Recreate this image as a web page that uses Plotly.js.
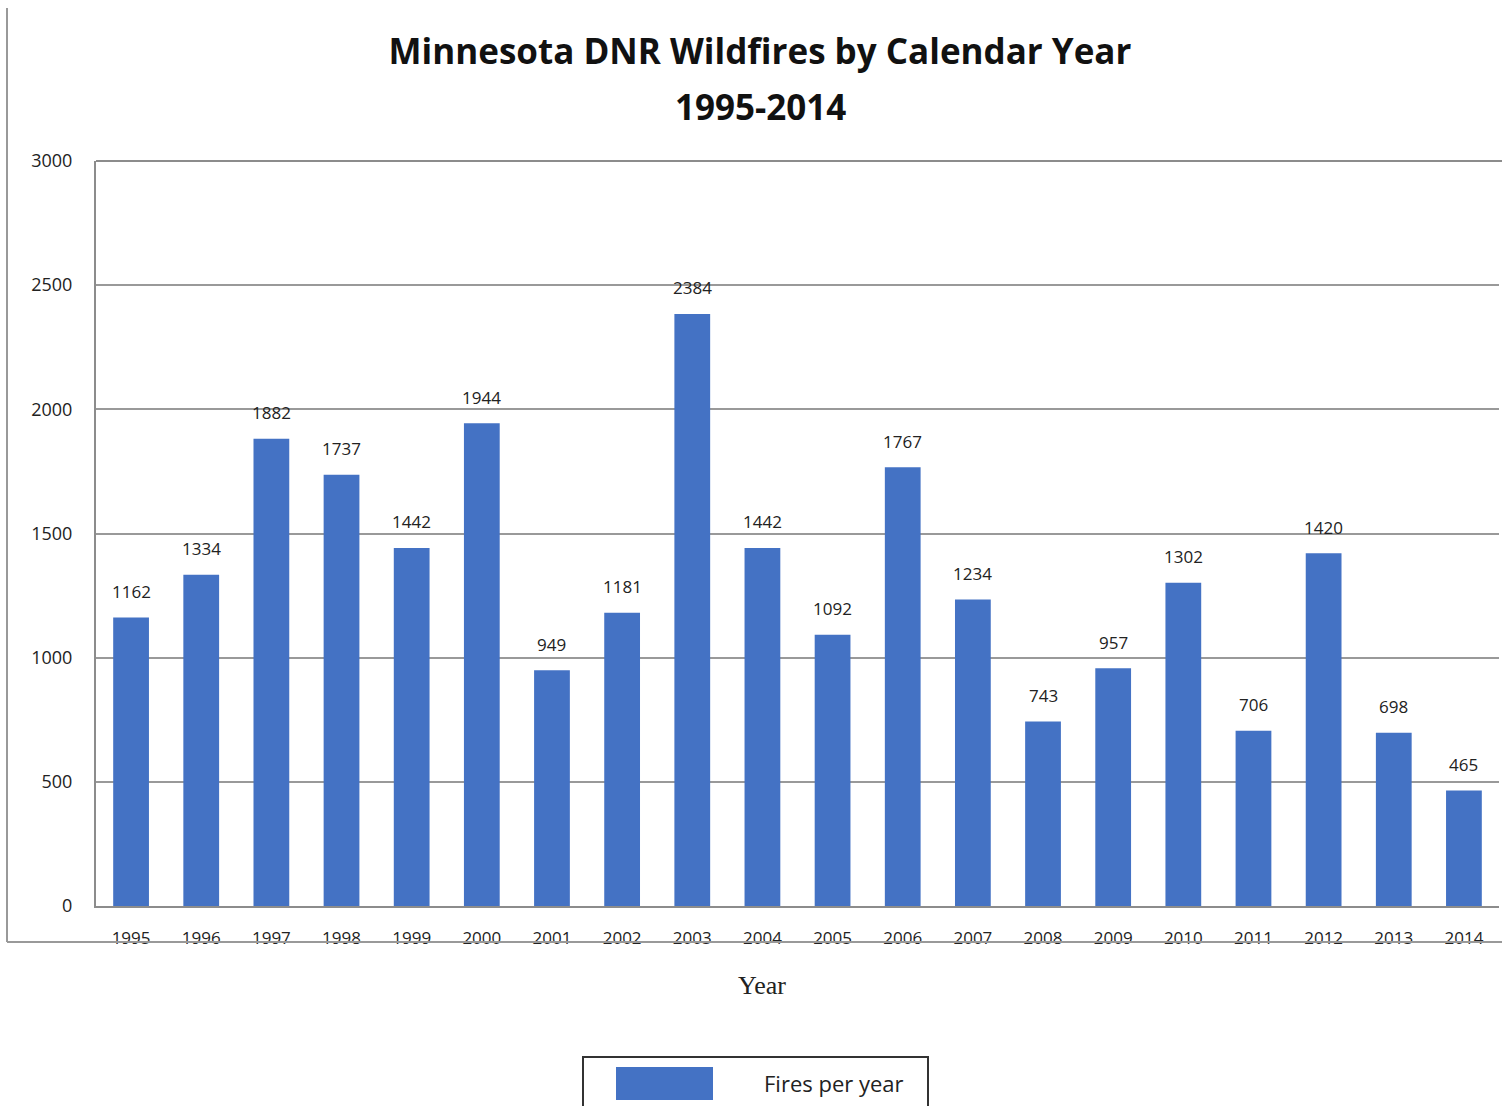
<!DOCTYPE html>
<html>
<head>
<meta charset="utf-8">
<script src="https://cdn.plot.ly/plotly-3.0.1.min.js"></script>
<style>
html,body{margin:0;padding:0;background:#fff;}
#chart{width:1502px;height:1106px;}
</style>
</head>
<body>
<div id="chart"></div>
<script>
// Data
const years = ["1995","1996","1997","1998","1999","2000","2001","2002","2003","2004",
               "2005","2006","2007","2008","2009","2010","2011","2012","2013","2014"];
const fires = [1162,1334,1882,1737,1442,1944,949,1181,2384,1442,
               1092,1767,1234,743,957,1302,706,1420,698,465];
const seriesName = "Fires per year";
const titleLine1 = "Minnesota DNR Wildfires by Calendar Year";
const titleLine2 = "1995-2014";
const xTitle = "Year";
const yTickVals = [0,500,1000,1500,2000,2500,3000];

const barColor = "#4472C4";
const sansFont = "Open Sans, Liberation Sans, sans-serif";

const trace = {
  type: "bar",
  x: years,
  y: fires,
  name: seriesName,
  marker: {color: barColor},
  showlegend: false,
  hoverinfo: "x+y"
};

const valueLabels = years.map((yr, i) => ({
  x: i, y: fires[i], xref: "x", yref: "y",
  text: String(fires[i]), showarrow: false,
  yanchor: "middle", yshift: 26,
  font: {family: sansFont, size: 17, color: "#222"}
}));

const layout = {
  width: 1502, height: 1106,
  margin: {l: 96, r: 3, t: 161, b: 200},
  paper_bgcolor: "#fff", plot_bgcolor: "#fff",
  bargap: 0.49,
  title: {
    text: "<b>" + titleLine1 + "</b>",
    x: 760/1502, xanchor: "center", xref: "container",
    y: 1 - 52/1106, yanchor: "middle", yref: "container",
    font: {family: sansFont, size: 35, color: "#111"}
  },
  xaxis: {
    type: "category",
    range: [-0.5, years.length - 0.5],
    showgrid: false,
    showline: true, linecolor: "#8c8c8c", linewidth: 2,
    ticks: "", ticklabelstandoff: 16,
    tickfont: {family: sansFont, size: 17, color: "#222"},
    fixedrange: true
  },
  yaxis: {
    range: [0, 3000],
    tickvals: yTickVals,
    showgrid: true, gridcolor: "#999", gridwidth: 2,
    showline: true, linecolor: "#8c8c8c", linewidth: 2,
    zeroline: false,
    ticks: "", ticklabelstandoff: 18,
    tickfont: {family: sansFont, size: 18, color: "#222"},
    fixedrange: true
  },
  annotations: valueLabels.concat([
    {x: (760-96)/1403, y: (906-106)/745, xref: "paper", yref: "paper",
     text: "<b>" + titleLine2 + "</b>", showarrow: false, xanchor: "center", yanchor: "middle",
     font: {family: sansFont, size: 35, color: "#111"}},
    {x: (762-96)/1403, y: (906-985)/745, xref: "paper", yref: "paper",
     text: xTitle, showarrow: false, xanchor: "center", yanchor: "middle",
     font: {family: "Liberation Serif, serif", size: 26, color: "#222"}},
    {x: (762-96)/1403, y: (906-1083)/745, xref: "paper", yref: "paper",
     text: seriesName, showarrow: false, xanchor: "left", yanchor: "middle",
     font: {family: sansFont, size: 22, color: "#222"}}
  ]),
  shapes: [
    // top border of plot area
    {type: "line", xref: "paper", yref: "paper",
     x0: 0, x1: 1.003, y0: 1, y1: 1,
     line: {color: "#8c8c8c", width: 2}},
    // outer frame lines
    {type: "line", xref: "paper", yref: "paper",
     x0: (7-96)/1403, x1: (7-96)/1403, y0: (906-8)/745, y1: (906-942)/745,
     line: {color: "#999", width: 2}},
    {type: "line", xref: "paper", yref: "paper",
     x0: (7-96)/1403, x1: (1502-96)/1403, y0: (906-942)/745, y1: (906-942)/745,
     line: {color: "#999", width: 2}},
    // legend box
    {type: "rect", xref: "paper", yref: "paper",
     x0: (583-96)/1403, x1: (928-96)/1403, y0: (906-1057)/745, y1: (906-1115)/745,
     line: {color: "#333", width: 2}, fillcolor: "rgba(0,0,0,0)"},
    // legend swatch
    {type: "rect", xref: "paper", yref: "paper",
     x0: (616-96)/1403, x1: (713-96)/1403, y0: (906-1067)/745, y1: (906-1100)/745,
     line: {width: 0}, fillcolor: barColor}
  ]
};

Plotly.newPlot("chart", [trace], layout, {displayModeBar: false, staticPlot: true});
</script>
</body>
</html>
